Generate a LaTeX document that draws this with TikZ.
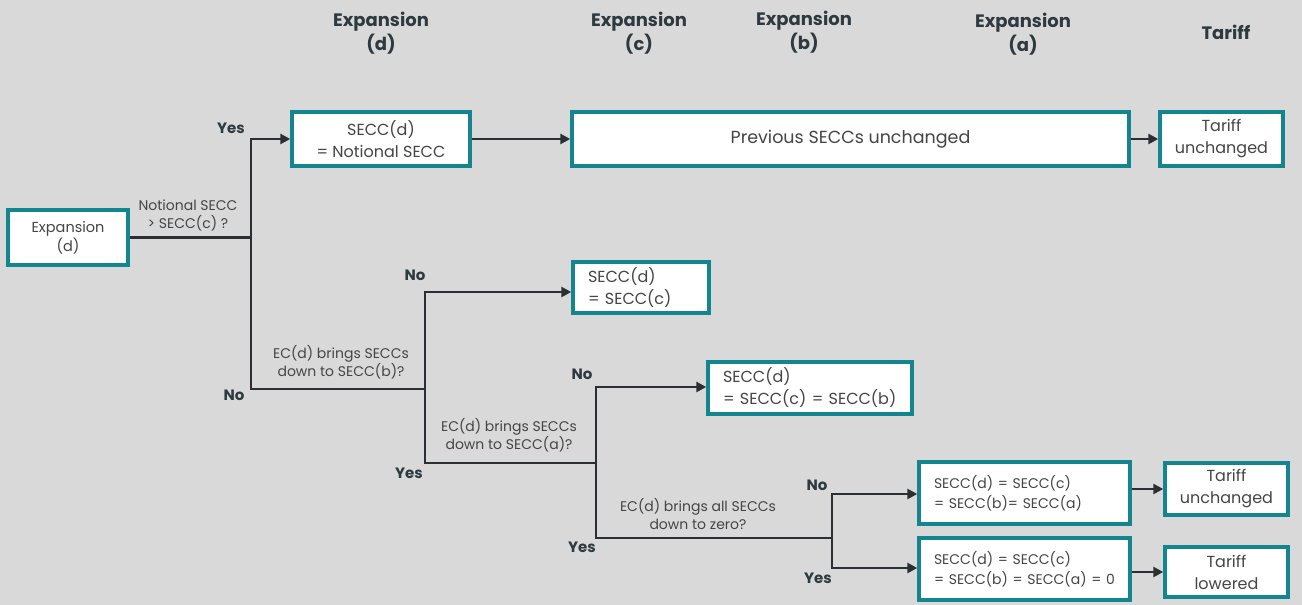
\documentclass[tikz,border=0pt]{standalone}
\usepackage{fontspec}
\setmainfont{Poppins}
\usetikzlibrary{arrows.meta}
\definecolor{bg}{HTML}{D9D9D9}
\definecolor{teal}{HTML}{12858F}
\definecolor{txt}{HTML}{454545}
\definecolor{ln}{HTML}{2B2F33}
\definecolor{hd}{HTML}{2E3A40}
\tikzset{
  box/.style={draw=teal, line width=3.4pt, fill=white, text=txt, inner sep=0pt, align=center, font=\fontsize{16}{22}\selectfont},
  lbox/.style={box, align=left},
  conn/.style={draw=ln, line width=2.7pt},
  arr/.style={conn, -{Triangle[length=10pt,width=10pt]}},
  yn/.style={text=hd, font=\bfseries\fontsize{15}{17}\selectfont},
  q/.style={text=txt, align=center, font=\fontsize{14}{18}\selectfont},
  head/.style={text=hd, align=center, font=\bfseries\fontsize{18}{24}\selectfont}
}
\begin{document}
\begin{tikzpicture}[x=1pt,y=-1pt]
\fill[bg] (0,0) rectangle (1302,605);
\useasboundingbox (0,0) rectangle (1302,605);
% headers
\node[head] (h1) at (381,33.5) {Expansion\\(d)};
\node[head] (h2) at (639,33.5) {Expansion\\(c)};
\node[head] (h3) at (804,32.5) {Expansion\\(b)};
\node[head] (h4) at (1023,34.5) {Expansion\\(a)};
\node[head] (h5) at (1226,32) {Tariff};
% boxes
\node[box, minimum width=120pt, minimum height=55pt, font=\fontsize{14.5}{19}\selectfont] (exp) at (68,237.5) {Expansion\\(d)};
\node[box, minimum width=178pt, minimum height=54pt] (sn) at (381,139) {SECC(d)\\= Notional SECC};
\node[box, minimum width=557pt, minimum height=54pt, font=\fontsize{17.5}{20}\selectfont] (prev) at (850.5,139) {Previous SECCs unchanged};
\node[box, minimum width=123pt, minimum height=54pt] (t1) at (1221.5,139) {Tariff\\unchanged};
\node[lbox, minimum width=136pt, minimum height=51pt, text width=106pt] (sc) at (641,287.5) {SECC(d)\\= SECC(c)};
\node[lbox, minimum width=204pt, minimum height=52pt, text width=174pt] (sb) at (810,388) {SECC(d)\\= SECC(c) = SECC(b)};
\node[lbox, minimum width=211pt, minimum height=62pt, text width=181pt, font=\fontsize{14}{20}\selectfont] (sa) at (1024.5,493) {SECC(d) = SECC(c)\\= SECC(b)= SECC(a)};
\node[lbox, minimum width=211pt, minimum height=62pt, text width=181pt, font=\fontsize{14}{20}\selectfont] (sz) at (1024.5,569) {SECC(d) = SECC(c)\\= SECC(b) = SECC(a) = 0};
\node[box, minimum width=123pt, minimum height=52pt] (t2) at (1226.5,489) {Tariff\\unchanged};
\node[box, minimum width=123pt, minimum height=50pt] (t3) at (1226.5,572) {Tariff\\lowered};
% junction coordinates
\coordinate (j1) at (251,237.5);
\coordinate (j1t) at (251,139);
\coordinate (j1b) at (251,389);
\coordinate (j2) at (425,389);
\coordinate (j2t) at (425,292);
\coordinate (j2b) at (425,463);
\coordinate (j3) at (596,463);
\coordinate (j3t) at (596,387);
\coordinate (j3b) at (596,538);
\coordinate (j4) at (832,538);
\coordinate (j4t) at (832,494);
\coordinate (j4b) at (832,568);
% connectors
\draw[conn] (exp.east) -- (j1);
\draw[conn, line cap=rect] (j1b) -- (j1t);
\draw[arr] (j1t) -- (sn.west);
\draw[arr] (sn.east) -- (prev.west);
\draw[arr] (prev.east) -- (t1.west);
\draw[conn] (j1b) -- (j2);
\draw[conn, line cap=rect] (j2b) -- (j2t);
\draw[arr] (j2t) -- (j2t -| sc.west);
\draw[conn] (j2b) -- (j3);
\draw[conn, line cap=rect] (j3b) -- (j3t);
\draw[arr] (j3t) -- (j3t -| sb.west);
\draw[conn] (j3b) -- (j4);
\draw[conn, line cap=rect] (j4b) -- (j4t);
\draw[arr] (j4t) -- (j4t -| sa.west);
\draw[arr] (j4b) -- (j4b -| sz.west);
\draw[arr] (sa.east |- t2.west) -- (t2.west);
\draw[arr] (sz.east |- t3.west) -- (t3.west);
% labels
\node[yn] (y1) at (231,128) {Yes};
\node[yn] (n1) at (234,395) {No};
\node[q] (q1) at (188,215) {Notional SECC\\> SECC(c) ?};
\node[yn] (n2) at (415,275) {No};
\node[q] (q2) at (341,362) {EC(d) brings SECCs\\down to SECC(b)?};
\node[yn] (y2) at (409,473) {Yes};
\node[yn] (n3) at (582,374) {No};
\node[q] (q3) at (509,435) {EC(d) brings SECCs\\down to SECC(a)?};
\node[yn] (y3) at (582,547) {Yes};
\node[q] (q4) at (698,514) {EC(d) brings all SECCs\\down to zero?};
\node[yn] (n4) at (817,485) {No};
\node[yn] (y4) at (818,578) {Yes};
\end{tikzpicture}
\end{document}
